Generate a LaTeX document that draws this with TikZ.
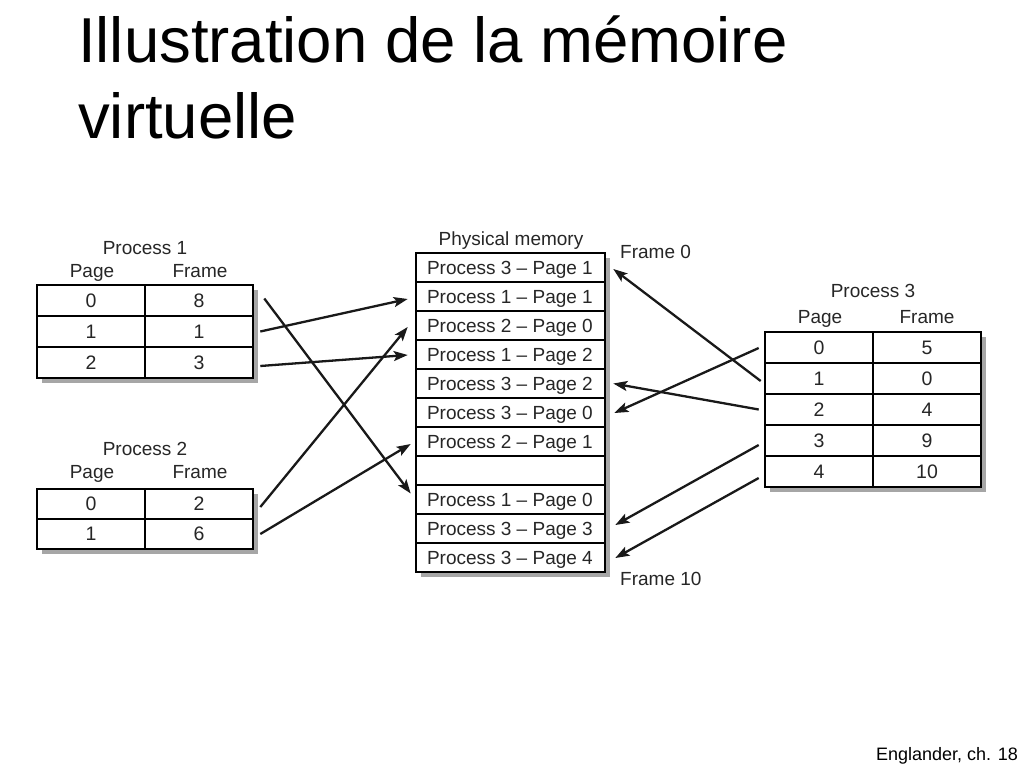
\documentclass[tikz,border=0pt]{standalone}
\usepackage{fontspec}
\setmainfont{Liberation Sans}
\usetikzlibrary{arrows.meta}
\begin{document}
\begin{tikzpicture}[x=1pt,y=-1pt,
  cell/.style={draw=black,line width=2.6pt,fill=white,inner sep=0pt,minimum width=108pt,minimum height=31pt,text height=13.7pt,text depth=0pt,font=\fontsize{19.5}{22}\selectfont,text=black!85},
  cellb/.style={cell,minimum height=30pt},
  memcell/.style={draw=black,line width=2.6pt,fill=white,inner xsep=11pt,inner ysep=0pt,minimum width=189pt,minimum height=29pt,text height=13.7pt,text depth=0pt,font=\fontsize{19}{22}\selectfont,text=black!85},
  lbl/.style={anchor=base,inner sep=0pt,font=\fontsize{19}{22}\selectfont,text=black!85},
  shadow/.style={fill=black!35,draw=none},
  arr/.style={line width=2.3pt,black!90,-{Stealth[length=14pt,width=10pt,inset=3pt]}}
]
\newcommand{\memtext}[1]{\makebox[167pt][l]{#1}}
\useasboundingbox (0,0) rectangle (1024,768);

% Title
\node[anchor=base west,inner sep=0pt,font=\fontsize{63.5}{75}\selectfont] (t1) at (78,63) {Illustration de la mémoire};
\node[anchor=base west,inner sep=0pt,font=\fontsize{63.5}{75}\selectfont] (t2) at (78,138) {virtuelle};
\node[anchor=base east,inner sep=0pt,font=\fontsize{18}{20}\selectfont] (foot) at (1018,760) {Englander, ch. 18};

% Shadows
\fill[shadow] (42,290) rectangle (258,383);
\fill[shadow] (42,494) rectangle (258,554);
\fill[shadow] (421,258) rectangle (610,577);
\fill[shadow] (770,337) rectangle (986,492);

% Process 1
\node[lbl] (p1t) at (145,254) {Process 1};
\node[lbl] (p1h1) at (92,277) {Page};
\node[lbl] (p1h2) at (200,277) {Frame};
\node[cell] (p1p0) at (91,300.5) {0};
\node[cell] (p1f0) at (199,300.5) {8};
\node[cell] (p1p1) at (91,331.5) {1};
\node[cell] (p1f1) at (199,331.5) {1};
\node[cell] (p1p2) at (91,362.5) {2};
\node[cell] (p1f2) at (199,362.5) {3};

% Process 2
\node[lbl] (p2t) at (145,455) {Process 2};
\node[lbl] (p2h1) at (92,478) {Page};
\node[lbl] (p2h2) at (200,478) {Frame};
\node[cellb] (p2p0) at (91,504) {0};
\node[cellb] (p2f0) at (199,504) {2};
\node[cellb] (p2p1) at (91,534) {1};
\node[cellb] (p2f1) at (199,534) {6};

% Physical memory
\node[lbl] (mt) at (511,245) {Physical memory};
\node[memcell] (m0) at (510.5,267.5) {\memtext{Process 3 – Page 1}};
\node[memcell] (m1) at (510.5,296.5) {\memtext{Process 1 – Page 1}};
\node[memcell] (m2) at (510.5,325.5) {\memtext{Process 2 – Page 0}};
\node[memcell] (m3) at (510.5,354.5) {\memtext{Process 1 – Page 2}};
\node[memcell] (m4) at (510.5,383.5) {\memtext{Process 3 – Page 2}};
\node[memcell] (m5) at (510.5,412.5) {\memtext{Process 3 – Page 0}};
\node[memcell] (m6) at (510.5,441.5) {\memtext{Process 2 – Page 1}};
\node[memcell] (m7) at (510.5,470.5) {\memtext{}};
\node[memcell] (m8) at (510.5,499.5) {\memtext{Process 1 – Page 0}};
\node[memcell] (m9) at (510.5,528.5) {\memtext{Process 3 – Page 3}};
\node[memcell] (m10) at (510.5,557.5) {\memtext{Process 3 – Page 4}};
\node[lbl,anchor=base west] (fr0) at (620,258) {Frame 0};
\node[lbl,anchor=base west] (fr10) at (620,585) {Frame 10};

% Process 3
\node[lbl] (p3t) at (873,297) {Process 3};
\node[lbl] (p3h1) at (820,323) {Page};
\node[lbl] (p3h2) at (927,323) {Frame};
\node[cell] (p3p0) at (819,347.5) {0};
\node[cell] (p3f0) at (927,347.5) {5};
\node[cell] (p3p1) at (819,378.5) {1};
\node[cell] (p3f1) at (927,378.5) {0};
\node[cell] (p3p2) at (819,409.5) {2};
\node[cell] (p3f2) at (927,409.5) {4};
\node[cell] (p3p3) at (819,440.5) {3};
\node[cell] (p3f3) at (927,440.5) {9};
\node[cell] (p3p4) at (819,471.5) {4};
\node[cell] (p3f4) at (927,471.5) {10};

% Arrows
\draw[arr] ([shift={(10,-2)}]p1f0.east) -- ([shift={(-4,-6)}]m8.west);
\draw[arr] ([shift={(6,0)}]p1f1.east) -- ([shift={(-7,2.5)}]m1.west);
\draw[arr] ([shift={(6,3.5)}]p1f2.east) -- ([shift={(-7,0.5)}]m3.west);
\draw[arr] ([shift={(6,3)}]p2f0.east) -- ([shift={(-7,1.5)}]m2.west);
\draw[arr] ([shift={(6,0)}]p2f1.east) -- ([shift={(-4,2.5)}]m6.west);
\draw[arr] ([shift={(-5,0.5)}]p3p0.west) -- ([shift={(8,0.5)}]m5.east);
\draw[arr] ([shift={(-3,2.5)}]p3p1.west) -- ([shift={(7,1.5)}]m0.east);
\draw[arr] ([shift={(-5,0)}]p3p2.west) -- ([shift={(7,0)}]m4.east);
\draw[arr] ([shift={(-5,4.5)}]p3p3.west) -- ([shift={(9,-3.5)}]m9.east);
\draw[arr] ([shift={(-5,6.5)}]p3p4.west) -- ([shift={(9,0.5)}]m10.east);
\end{tikzpicture}
\end{document}
